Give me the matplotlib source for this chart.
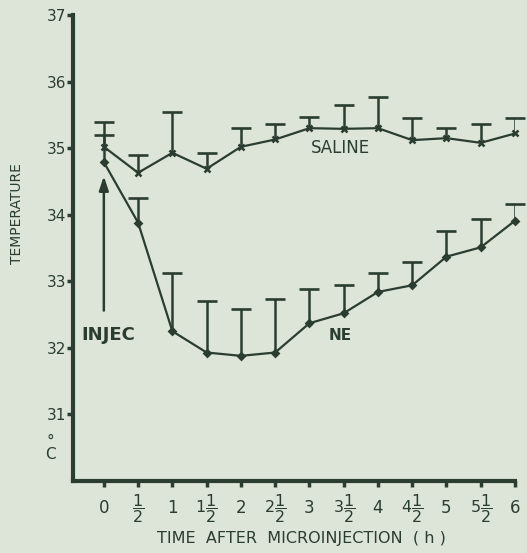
import matplotlib
matplotlib.use("Agg")
import matplotlib.pyplot as plt
import numpy as np

# ---- data ----
hours = [0, 0.5, 1, 1.5, 2, 2.5, 3, 3.5, 4, 4.5, 5, 5.5, 6]
saline_mean = [35.02, 34.63, 34.93, 34.69, 35.02, 35.13, 35.30, 35.29, 35.30, 35.12, 35.15, 35.08, 35.22]
saline_upper = [35.40, 34.90, 35.55, 34.93, 35.30, 35.36, 35.47, 35.65, 35.77, 35.45, 35.30, 35.36, 35.45]
ne_mean = [34.79, 33.88, 32.25, 31.93, 31.88, 31.93, 32.37, 32.52, 32.84, 32.94, 33.37, 33.51, 33.91]
ne_upper = [35.20, 34.25, 33.13, 32.71, 32.58, 32.73, 32.89, 32.94, 33.13, 33.29, 33.75, 33.93, 34.16]
x_tick_labels = ["0", r"$\dfrac{1}{2}$", "1", r"$1\dfrac{1}{2}$", "2", r"$2\dfrac{1}{2}$", "3",
                 r"$3\dfrac{1}{2}$", "4", r"$4\dfrac{1}{2}$", "5", r"$5\dfrac{1}{2}$", "6"]
y_ticks = [31, 32, 33, 34, 35, 36, 37]

bg = "#dde5d8"
ink = "#2b3d31"

plt.rcParams['font.family'] = ['DejaVu Sans']
plt.rcParams['mathtext.fontset'] = 'dejavusans'

fig = plt.figure(figsize=(5.27, 5.53), dpi=100, facecolor=bg)
ax = fig.add_axes([73/527, 1-481/553, (515-73)/527, (481-15)/553])
ax.set_facecolor(bg)
ax.set_xlim(-0.45, 6.0)
ax.set_ylim(30, 37)

hx = np.array(hours)
sm = np.array(saline_mean); su = np.array(saline_upper)
nm = np.array(ne_mean); nu = np.array(ne_upper)

for mean, upper, mk, ms in [(sm, su, 'x', 5), (nm, nu, 'D', 3.2)]:
    ax.plot(hx, mean, color=ink, lw=1.6, marker=mk, ms=ms, mew=1.8, clip_on=False, zorder=3)
    ax.vlines(hx, mean, upper, color=ink, lw=1.8, zorder=3)
    ax.plot(hx, upper, ls='none', marker='_', ms=15, mew=1.9, color=ink, clip_on=False, zorder=3)

ax.text(3.45, 35.0, "SALINE", color=ink, fontsize=12, ha='center', va='center')
ax.text(3.45, 32.19, "NE", color=ink, fontsize=11, fontweight='bold', ha='center', va='center')
ax.text(-0.33, 32.2, "INJEC", color=ink, fontsize=13, fontweight='bold', ha='left', va='center')
ax.annotate("", xy=(0, 34.58), xytext=(0, 32.56),
            arrowprops=dict(arrowstyle='-|>,head_length=0.6,head_width=0.2', color=ink, lw=1.8,
                            mutation_scale=14, shrinkA=0, shrinkB=0))

for s in ['top', 'right']:
    ax.spines[s].set_visible(False)
for s in ['left', 'bottom']:
    ax.spines[s].set_color(ink)
    ax.spines[s].set_linewidth(3)

ax.set_yticks(y_ticks)
ax.set_yticklabels([str(v) for v in y_ticks])
ax.set_xticks(hours)
ax.set_xticklabels(x_tick_labels)
ax.tick_params(axis='both', colors=ink, width=2.5, length=4, labelsize=11, direction='out')
ax.tick_params(axis='y', pad=1)
ax.tick_params(axis='x', pad=15.5)
for lab in ax.get_xticklabels():
    lab.set_verticalalignment('center')
    if "frac" in lab.get_text():
        lab.set_fontsize(11.5)
    else:
        lab.set_fontsize(12)

fig.text(17/527, 1-214/553, "TEMPERATURE", rotation=90, color=ink, fontsize=10,
         ha='center', va='center')
fig.text(50/527, 1-448/553, "°\nC", color=ink, fontsize=11, ha='center', va='center',
         linespacing=0.8)
fig.text(301/527, 1-538/553, "TIME  AFTER  MICROINJECTION  ( h )", color=ink, fontsize=11.5,
         ha='center', va='center')

fig.savefig("out.png", dpi=100, facecolor=bg)
